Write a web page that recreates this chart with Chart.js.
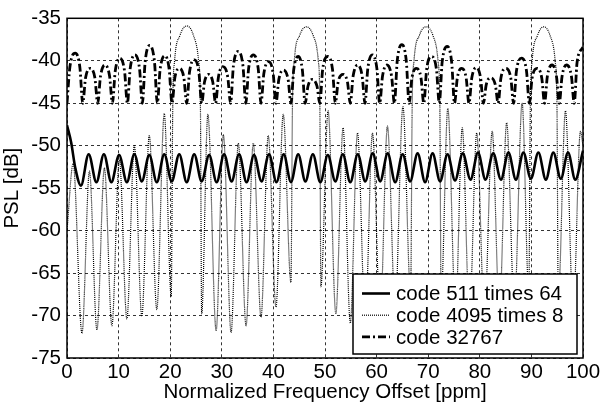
<!DOCTYPE html>
<html>
<head>
<meta charset="utf-8">
<script src="https://cdn.jsdelivr.net/npm/chart.js@4.4.0/dist/chart.umd.min.js"></script>
<style>
  html, body { margin:0; padding:0; background:#fff; }
  canvas { display:block; }
</style>
</head>
<body>
<canvas id="psl" width="604" height="405"></canvas>
<script>
/* PSL vs normalized frequency offset */

const LABELS = ['code 511 times 64', 'code 4095 times 8', 'code 32767'];
const X_TITLE = 'Normalized Frequency Offset [ppm]';
const Y_TITLE = 'PSL [dB]';

// code 511 times 64 (solid)
const SOLID_X = [0,0.8,1.6,2.7,4.2,5.7,7.15,8.6,10.1,11.6,13.05,14.5,15.95,17.4,18.85,20.3,21.75,23.2,24.65,26.1,
  27.55,29.0,30.45,31.9,33.35,34.8,36.25,37.7,39.15,40.6,42.0,43.4,44.8,46.2,47.65,49.1,50.55,52.0,53.45,54.9,
  56.35,57.8,59.25,60.7,62.15,63.6,65.05,66.5,67.95,69.4,70.85,72.3,73.75,75.2,76.7,78.2,79.65,81.1,82.6,84.1,
  85.55,87.0,88.45,89.9,91.35,92.8,94.25,95.7,97.1,98.5,100];
const SOLID_Y = [-47.6,-49.6,-52.6,-54.7,-51.0,-54.3,-51.0,-54.3,-51.1,-54.3,-51.0,-54.2,-51.1,-54.3,-51.0,-54.2,-51.0,-54.3,-51.0,-54.2,
  -51.1,-54.3,-51.0,-54.2,-51.0,-54.3,-51.1,-54.2,-51.0,-54.3,-51.0,-54.3,-51.0,-54.2,-51.0,-54.3,-51.1,-54.2,-51.0,-54.3,
  -51.0,-54.2,-50.9,-54.2,-50.9,-54.3,-51.0,-54.2,-50.9,-54.3,-50.9,-54.2,-51.0,-54.1,-50.9,-54.0,-50.8,-54.0,-50.9,-54.0,
  -50.8,-54.0,-50.8,-53.9,-50.8,-54.0,-50.8,-53.9,-50.8,-54.0,-50.6];

// code 4095 times 8 (dotted)
const DOT_X = [0,1.2,2.9,4.35,5.8,7.25,8.7,10.15,11.6,13.05,14.5,15.95,17.4,18.85,
  20.2,20.5,20.85,21.9,23.2,24.5,25.5,25.85,26.1,
  27.3,28.9,30.3,31.8,33.2,34.7,36.1,37.6,39.0,40.5,41.9,
  43.4,43.7,44.05,45.1,46.4,47.7,48.7,49.0,49.2,
  50.6,52.1,53.5,54.9,56.3,57.8,59.2,60.7,62.1,63.6,65.1,
  66.6,66.9,67.25,68.3,69.6,70.9,71.9,72.25,72.5,
  73.8,75.3,76.6,78.0,79.4,80.9,82.4,83.8,85.2,86.7,88.2,
  89.5,89.8,90.15,91.2,92.4,93.6,94.6,94.95,95.2,
  96.6,98.1,99.5,100];
const DOT_Y = [-60,-52.1,-72.1,-53.0,-71.7,-52.6,-71.2,-51.6,-70.4,-50.0,-70.1,-48.8,-69.3,-46.2,
  -67.8,-45.0,-40.0,-37.0,-35.9,-37.0,-40.0,-45.0,-69.8,
  -46.3,-71.8,-48.7,-72.0,-49.7,-71.2,-49.7,-70.2,-48.8,-69.0,-46.3,
  -66.1,-45.0,-40.0,-37.0,-36.0,-37.0,-40.0,-45.0,-66.6,
  -45.9,-69.8,-47.9,-70.9,-48.5,-70.5,-48.5,-70.0,-47.7,-69.0,-45.4,
  -67.5,-45.0,-40.0,-37.0,-36.0,-37.0,-40.0,-45.0,-68.0,
  -45.6,-69.5,-47.9,-70.0,-48.5,-70.0,-48.3,-69.5,-47.3,-69.0,-45.0,
  -67.5,-45.0,-40.0,-37.0,-36.0,-37.0,-40.0,-45.0,-68.0,
  -45.9,-69.5,-48.3,-50.0];

// code 32767 (dash-dot): per lobe null, shoulder, peak, shoulder; floor at -45
const DASH_X = [
  0,0.55,1.6,2.5,     3.05,3.6,4.5,5.4,      5.95,6.5,7.35,8.25,    8.8,9.35,10.2,11.15,
  11.7,12.25,13.15,14.05, 14.6,15.15,16.0,16.95, 17.5,18.05,19.0,19.8, 20.35,20.9,21.7,22.65,
  23.2,23.75,24.7,25.55, 26.1,26.65,27.45,28.25, 28.8,29.35,30.2,31.15, 31.7,32.25,33.2,34.1,
  34.65,35.2,36.1,37.05, 37.6,38.15,39.1,39.95, 40.5,41.05,41.95,42.85, 43.4,43.95,44.8,45.6,
  46.15,46.7,47.5,48.45, 49.0,49.55,50.5,51.45, 52.0,52.55,53.5,54.35, 54.9,55.45,56.35,57.2,
  57.75,58.3,59.15,60.05, 60.6,61.15,62.0,62.9, 63.45,64.0,64.9,65.75, 66.3,66.85,67.7,68.6,
  69.15,69.7,70.6,71.6, 72.15,72.7,73.7,74.55, 75.1,75.65,76.45,77.35, 77.9,78.45,79.3,80.15,
  80.7,81.25,82.1,83.0, 83.55,84.1,85.0,86.0, 86.55,87.1,88.1,89.05, 89.6,90.15,91.1,92.0,
  92.55,93.1,94.0,94.85, 95.4,95.95,96.8,97.75, 98.3,98.85,100];
const DASH_Y = [
  -45,-40.8,-39.1,-40.8, -45,-42.0,-40.9,-42.0, -45,-41.8,-40.5,-41.8, -45,-41.2,-39.7,-41.2,
  -45,-40.9,-39.3,-40.9, -45,-40.1,-38.2,-40.1, -45,-41.0,-39.4,-41.0, -45,-42.0,-40.9,-42.0,
  -45,-41.3,-39.9,-41.3, -45,-42.5,-41.6,-42.5, -45,-41.9,-40.7,-41.9, -45,-40.6,-38.9,-40.6,
  -45,-40.9,-39.3,-40.9, -45,-41.5,-40.1,-41.5, -45,-42.2,-41.1,-42.2, -45,-41.0,-39.5,-41.0,
  -45,-43.0,-42.2,-43.0, -45,-41.0,-39.5,-41.0, -45,-42.5,-41.6,-42.5, -45,-41.8,-40.5,-41.8,
  -45,-40.9,-39.3,-40.9, -45,-41.8,-40.5,-41.8, -45,-40.0,-38.1,-40.0, -45,-42.0,-40.9,-42.0,
  -45,-41.0,-39.5,-41.0, -45,-40.2,-38.3,-40.2, -45,-42.0,-40.9,-42.0, -45,-42.0,-40.8,-42.0,
  -45,-42.8,-42.0,-42.8, -45,-42.0,-40.9,-42.0, -45,-41.2,-39.7,-41.2, -45,-42.0,-40.9,-42.0,
  -45,-41.8,-40.5,-41.8, -45,-41.8,-40.5,-41.8, -45,-40.2,-38.4];

const FONT = '"Liberation Sans", Arial, Helvetica, sans-serif';
const FS = 20.5;
const pts = (xs, ys) => xs.map((x, i) => ({ x, y: ys[i] }));

// frame box + legend drawn inside the plot, matlab style
const framePlugin = {
  id: 'frame',
  afterDatasetsDraw(chart) {
    const { ctx, chartArea: a } = chart;
    ctx.save();
    ctx.setLineDash([]);
    ctx.strokeStyle = '#000';
    ctx.lineWidth = 1.5;
    ctx.strokeRect(a.left, a.top, a.right - a.left, a.bottom - a.top);

    const bx = 353, by = 274, bw = 224, bh = 80;
    ctx.fillStyle = '#fff';
    ctx.fillRect(bx, by, bw, bh);
    ctx.strokeRect(bx, by, bw, bh);
    ctx.font = FS + 'px ' + FONT;
    ctx.textBaseline = 'middle';
    chart.data.datasets.forEach((ds, i) => {
      const y = by + 19.5 + i * 21.7;
      ctx.strokeStyle = ds.borderColor;
      ctx.lineWidth = ds.borderWidth;
      ctx.setLineDash(ds.borderDash || []);
      ctx.beginPath(); ctx.moveTo(bx + 9, y); ctx.lineTo(bx + 37, y); ctx.stroke();
      ctx.setLineDash([]);
      ctx.fillStyle = '#000';
      ctx.fillText(ds.label, bx + 43, y + 1);
    });
    ctx.restore();
  }
};

new Chart(document.getElementById('psl'), {
  type: 'line',
  data: {
    datasets: [
      { label: LABELS[0], data: pts(SOLID_X, SOLID_Y), borderColor: '#000', borderWidth: 2.6, borderDash: [],
        pointRadius: 0, cubicInterpolationMode: 'monotone', fill: false },
      { label: LABELS[1], data: pts(DOT_X, DOT_Y), borderColor: '#000', borderWidth: 1.2, borderDash: [1, 1],
        pointRadius: 0, cubicInterpolationMode: 'monotone', fill: false },
      { label: LABELS[2], data: pts(DASH_X, DASH_Y), borderColor: '#000', borderWidth: 2.8, borderDash: [8, 3, 2, 3],
        pointRadius: 0, cubicInterpolationMode: 'monotone', fill: false },
    ]
  },
  options: {
    responsive: false,
    animation: false,
    devicePixelRatio: 1,
    layout: { padding: { top: 17, right: 21, left: 0, bottom: 0 } },
    plugins: { legend: { display: false }, tooltip: { enabled: false } },
    scales: {
      x: {
        type: 'linear', min: 0, max: 100,
        ticks: { stepSize: 10, color: '#000', font: { size: FS, family: FONT }, padding: 2, maxRotation: 0 },
        grid: { color: '#000', lineWidth: 0.8, drawTicks: false },
        border: { display: false, dash: [3, 3] },
        title: { display: true, text: X_TITLE, color: '#000', font: { size: FS, family: FONT }, padding: 0 },
        afterFit(s) { s.height = 47; }
      },
      y: {
        min: -75, max: -35,
        ticks: { stepSize: 5, color: '#000', font: { size: FS, family: FONT }, padding: 6 },
        grid: { color: '#000', lineWidth: 0.8, drawTicks: false },
        border: { display: false, dash: [3, 3] },
        title: { display: true, text: Y_TITLE, color: '#000', font: { size: FS, family: FONT }, padding: 0 },
        afterFit(s) { s.width = 67; }
      }
    }
  },
  plugins: [framePlugin]
});
</script>
</body>
</html>
